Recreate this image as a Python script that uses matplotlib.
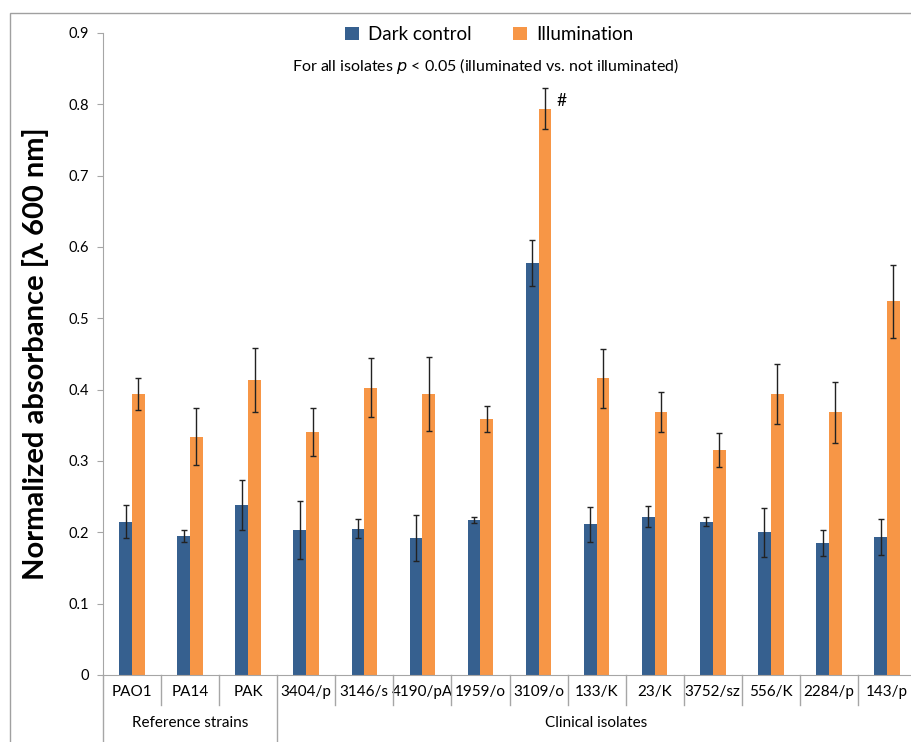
import matplotlib
matplotlib.use("Agg")
import matplotlib.pyplot as plt
import numpy as np
from matplotlib.patches import Rectangle

plt.rcParams['font.family'] = ['Lato', 'DejaVu Sans']

strains = ['PAO1', 'PA14', 'PAK', '3404/p', '3146/s', '4190/pA', '1959/o',
           '3109/o', '133/K', '23/K', '3752/sz', '556/K', '2284/p', '143/p']
dark = [0.215, 0.195, 0.238, 0.203, 0.205, 0.192, 0.217,
        0.578, 0.211, 0.222, 0.215, 0.200, 0.185, 0.193]
dark_err = [0.023, 0.008, 0.035, 0.041, 0.013, 0.032, 0.004,
            0.032, 0.024, 0.015, 0.006, 0.034, 0.018, 0.025]
illum = [0.394, 0.334, 0.413, 0.341, 0.403, 0.394, 0.359,
         0.794, 0.416, 0.369, 0.315, 0.394, 0.368, 0.524]
illum_err = [0.023, 0.040, 0.045, 0.034, 0.041, 0.052, 0.018,
             0.029, 0.041, 0.028, 0.024, 0.042, 0.043, 0.051]
groups = ['Reference strains', 'Clinical isolates']
group_sizes = [3, 11]

blue = '#36608f'
orange = '#f79646'
grey = '#a6a6a6'

fig = plt.figure(figsize=(9.11, 7.42), dpi=100)
W, H = 911, 742
ax = fig.add_axes([103 / W, 1 - 675 / H, 813 / W, 642 / H])

x = np.arange(len(strains))
bw = 0.22
ekw = dict(ecolor='#222222', elinewidth=1, capsize=2.5, capthick=1)
ax.bar(x - bw / 2, dark, bw, color=blue, label='Dark control',
       yerr=dark_err, error_kw=ekw)
ax.bar(x + bw / 2, illum, bw, color=orange, label='Illumination',
       yerr=illum_err, error_kw=ekw)

ax.set_xlim(-0.5, len(strains) - 0.5)
ax.set_ylim(0, 0.9)
ax.set_yticks(np.arange(0, 0.91, 0.1))
ax.set_yticklabels(['0'] + ['%.1f' % v for v in np.arange(0.1, 0.91, 0.1)],
                   fontsize=10.5)
ax.tick_params(axis='y', length=4, color=grey, pad=6)
ax.set_xticks(x)
ax.set_xticklabels(strains, fontsize=11)
ax.tick_params(axis='x', length=0, pad=7)

for s in ['top', 'right']:
    ax.spines[s].set_visible(False)
for s in ['left', 'bottom']:
    ax.spines[s].set_color(grey)

# category separators below the axis
tr = ax.get_xaxis_transform()
edges = np.arange(len(strains) + 1) - 0.5
group_edges = np.cumsum([0] + group_sizes) - 0.5
for e in edges:
    depth = -0.109 if e in group_edges else -0.047
    ax.plot([e, e], [0, depth], color=grey, lw=1, transform=tr, clip_on=False)

start = 0
for g, n in zip(groups, group_sizes):
    ax.text(start + n / 2 - 0.5, -0.075, g, transform=tr, ha='center',
            va='center', fontsize=11)
    start += n

ax.set_ylabel('Normalized absorbance [λ 600 nm]', fontsize=21,
              fontweight='bold', labelpad=14)

ax.legend(loc='upper center', bbox_to_anchor=(0.475, 1.037), ncol=2,
          frameon=False, fontsize=13.5, handlelength=0.75, handleheight=0.75,
          columnspacing=2.2, handletextpad=0.5)

fig.text(486 / W, 1 - 66 / H,
         'For all isolates $\\it{p}$ < 0.05 (illuminated vs. not illuminated)',
         ha='center', va='center', fontsize=11.5)

ax.text(7 + bw / 2 + 0.2, illum[7], '#', fontsize=12.5, va='bottom', ha='left')

fig.patches.append(Rectangle((10 / W, -0.1), 1.0, 1.1 - 13 / H,
                             transform=fig.transFigure, fill=False,
                             edgecolor='#a0a0a0', lw=1))

fig.savefig('out.png', dpi=100)
